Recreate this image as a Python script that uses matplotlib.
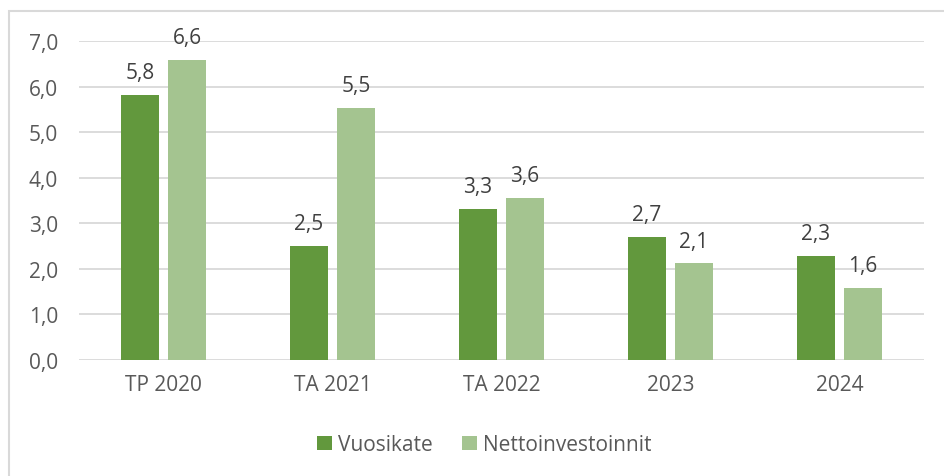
import matplotlib.pyplot as plt
import numpy as np
from matplotlib.patches import Rectangle

categories = ['TP 2020', 'TA 2021', 'TA 2022', '2023', '2024']
vuosikate = [5.82, 2.51, 3.32, 2.70, 2.29]
nettoinv = [6.58, 5.54, 3.56, 2.12, 1.59]
series_names = ['Vuosikate', 'Nettoinvestoinnit']
yticks = [0, 1, 2, 3, 4, 5, 6, 7]

dark = '#62983D'
light = '#A4C490'
grid_c = '#D9D9D9'
tick_c = '#595959'
label_c = '#404040'

plt.rcParams['font.family'] = ['Open Sans', 'DejaVu Sans']
fs = 15

fig = plt.figure(figsize=(9.44, 4.77), dpi=100)
ax = fig.add_axes([79/944, 1 - 361/477, 845/944, 319/477])

x = np.arange(len(categories))
w = 0.225
off = 0.139
b1 = ax.bar(x - off, vuosikate, w, color=dark, label=series_names[0], zorder=3)
b2 = ax.bar(x + off, nettoinv, w, color=light, label=series_names[1], zorder=3)

for bars in (b1, b2):
    for r in bars:
        h = r.get_height()
        ax.annotate(f'{h:.1f}'.replace('.', ','), (r.get_x() + r.get_width()/2, h),
                    xytext=(0, 16), textcoords='offset points', ha='center', va='center',
                    fontsize=fs, color=label_c)

ax.set_xlim(-0.5, len(categories) - 0.5)
ax.set_ylim(0, 7)
ax.set_yticks(yticks)
ax.set_yticklabels([f'{v:.1f}'.replace('.', ',') for v in yticks])
ax.set_xticks(x)
ax.set_xticklabels(categories)
ax.tick_params(axis='both', length=0, labelsize=fs, colors=tick_c)
ax.tick_params(axis='y', pad=15)
ax.tick_params(axis='x', pad=10)
ax.yaxis.grid(True, color=grid_c, linewidth=1.3, zorder=0)
for s in ax.spines.values():
    s.set_visible(False)

fig.legend(handles=[b1, b2], loc='center', bbox_to_anchor=(0.513, 0.065), ncol=2,
           frameon=False, fontsize=fs, handlelength=0.7, handleheight=0.7,
           handletextpad=0.3, columnspacing=1.4, labelcolor=tick_c)

# outer chart border (left and top visible)
fig.patches.append(Rectangle((8.5/944, -0.1), 1.2, 1.1 - 11.5/477,
                             transform=fig.transFigure, fill=False,
                             edgecolor=grid_c, linewidth=1.5))

fig.savefig('out.png', dpi=100)
